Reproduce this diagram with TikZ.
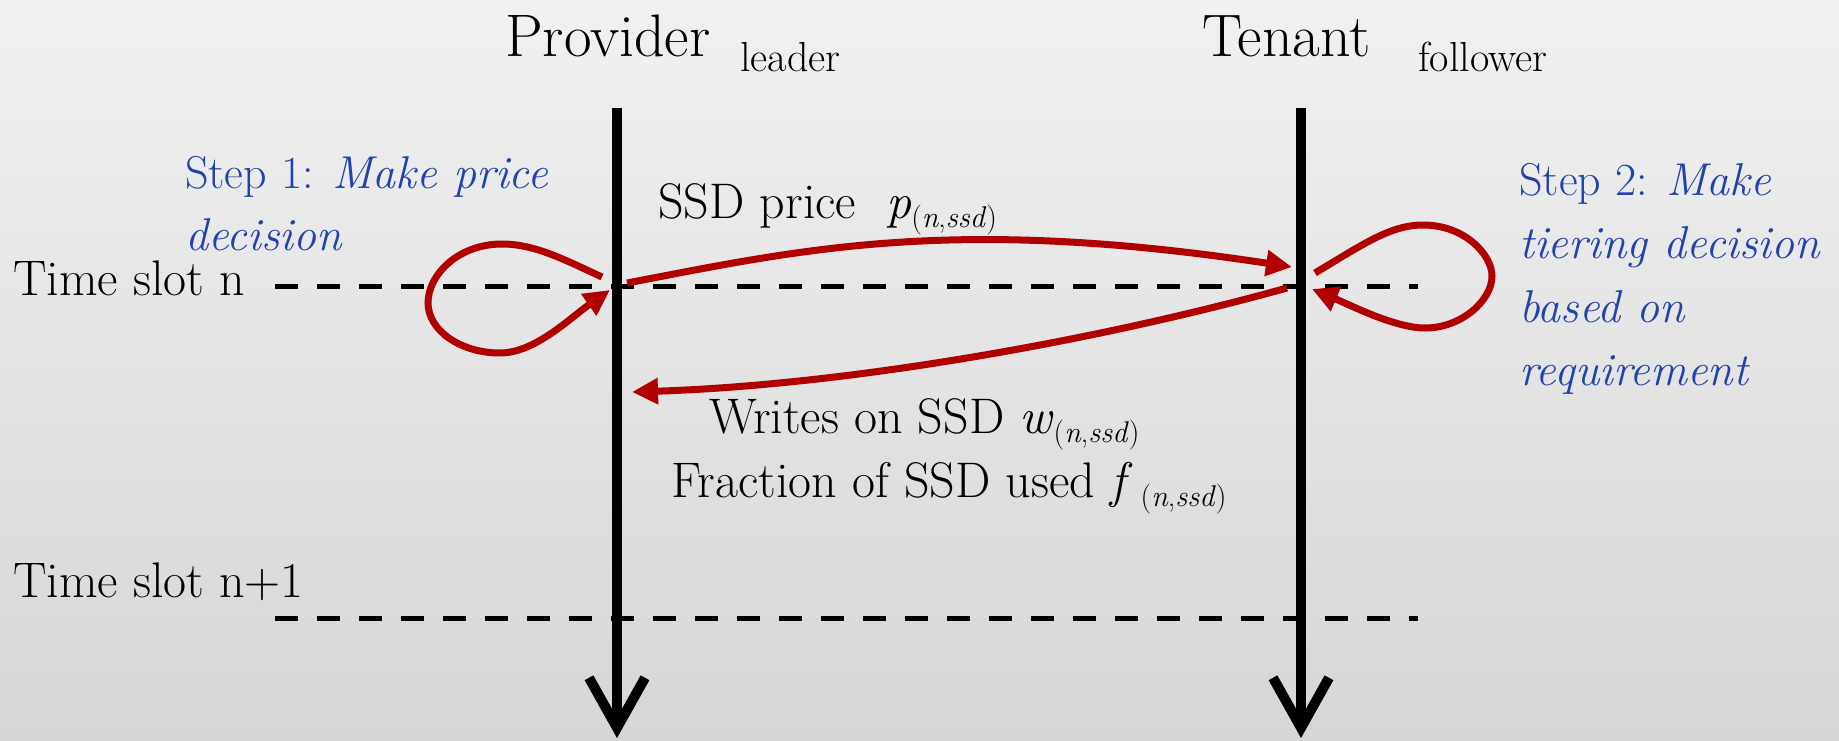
\documentclass[tikz,border=0pt]{standalone}
\usetikzlibrary{arrows.meta}
\definecolor{arrowred}{RGB}{176,0,0}
\definecolor{stepblue}{RGB}{32,66,170}
\definecolor{bgtop}{RGB}{241,241,241}
\definecolor{bgbot}{RGB}{214,214,214}
\newcommand{\ssdidx}{\raisebox{-9pt}{\fontsize{30}{30}\selectfont(\textit{n},\textit{ssd})}}
\begin{document}
\begin{tikzpicture}[x=1pt,y=-1pt,
  txt/.style={inner sep=0pt, anchor=base west, font=\fontsize{50}{62}\selectfont},
  steptxt/.style={inner sep=0pt, anchor=base west, text=stepblue, font=\fontsize{46}{62}\selectfont},
  titletxt/.style={inner sep=0pt, anchor=base west, font=\fontsize{60}{70}\selectfont},
  subtxt/.style={inner sep=0pt, anchor=base west, font=\fontsize{42}{47}\selectfont},
  lifeline/.style={line width=10pt, -{Straight Barb[length=50pt,width=56pt]}},
  slot/.style={line width=5pt, dash pattern=on 23pt off 19pt},
  msg/.style={line width=7pt, arrowred, -{Triangle[length=26pt,width=25pt]}}]
\useasboundingbox (0,0) rectangle (1839,741);
\shade[top color=bgtop, bottom color=bgbot] (0,0) rectangle (1839,741);

% titles
\node[titletxt] (prov) at (505,57) {Provider};
\node[subtxt] (provsub) at (740,72) {leader};
\node[titletxt] (ten) at (1202,57) {Tenant};
\node[subtxt] (tensub) at (1418,72) {follower};

% coordinates
\coordinate (ptop) at (617,108); \coordinate (pbot) at (617,738);
\coordinate (ttop) at (1301,108); \coordinate (tbot) at (1301,738);
\coordinate (d1s) at (275,286); \coordinate (d1e) at (1418,286);
\coordinate (d2s) at (275,618); \coordinate (d2e) at (1418,618);

% time slot lines
\draw[slot] (d1s) -- (d1e);
\draw[slot] (d2s) -- (d2e);

% lifelines
\draw[lifeline] (ptop) -- (pbot);
\draw[lifeline] (ttop) -- (tbot);

% labels
\node[txt] (slotn) at (13,295) {Time slot n};
\node[txt] (slotn1) at (13,597) {Time slot n+1};
\node[steptxt] (s1a) at (185,188) {Step 1: \textit{Make price}};
\node[steptxt] (s1b) at (185,250) {\textit{decision}};
\node[steptxt] (s2a) at (1519,195) {Step 2: \textit{Make}};
\node[steptxt] (s2b) at (1519,258) {\textit{tiering decision}};
\node[steptxt] (s2c) at (1519,322) {\textit{based on}};
\node[steptxt] (s2d) at (1519,385) {\textit{requirement}};
\node[txt] (price) at (658,218) {SSD price \ \textit{p}\ssdidx};
\node[txt] (writes) at (709,433) {Writes on SSD \textit{w}\ssdidx};
\node[txt] (frac) at (671,497) {Fraction of SSD used \textit{f}\,\ssdidx};

% message endpoints
\coordinate (l1s) at (602,277); \coordinate (l1e) at (610,290);
\coordinate (m1s) at (627,283); \coordinate (m1e) at (1292,267);
\coordinate (l2s) at (1315,273); \coordinate (l2e) at (1312,289);
\coordinate (m2s) at (1287,288); \coordinate (m2e) at (632,392);

% red arrows
\draw[msg] (l1s) .. controls (565,260) and (535,244) .. (502,244)
  .. controls (458,244) and (428,275) .. (428,303)
  .. controls (428,330) and (460,353) .. (500,353)
  .. controls (535,353) and (570,318) .. (l1e);
\draw[msg] (m1s) .. controls (800,250) and (950,215) .. (m1e);
\draw[msg] (l2s) .. controls (1362,245) and (1390,225) .. (1423,225)
  .. controls (1465,225) and (1492,255) .. (1492,276)
  .. controls (1492,300) and (1462,328) .. (1425,328)
  .. controls (1395,328) and (1350,305) .. (l2e);
\draw[msg] (m2s) .. controls (1100,340) and (850,385) .. (m2e);
\end{tikzpicture}
\end{document}
